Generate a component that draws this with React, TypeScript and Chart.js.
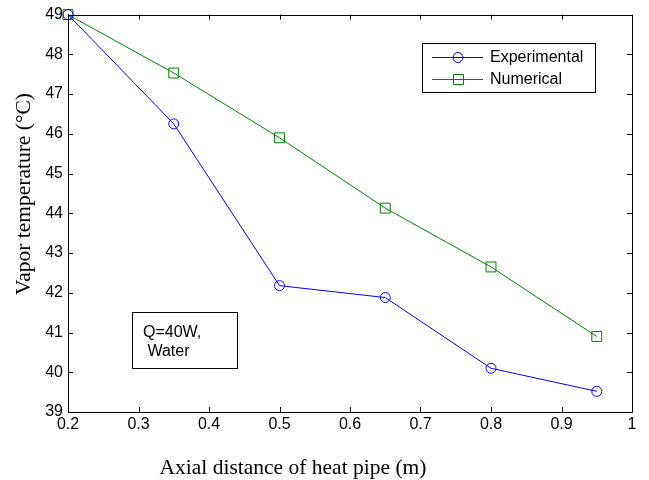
import React, { useEffect, useRef } from 'react';
import { Chart, registerables } from 'chart.js';

Chart.register(...registerables);

const xPositions = [0.2, 0.35, 0.5, 0.65, 0.8, 0.95];
const experimental = [49, 46.25, 42.18, 41.88, 40.1, 39.52];
const numerical = [49, 47.53, 45.9, 44.13, 42.65, 40.9];
const xTickValues = [0.2, 0.3, 0.4, 0.5, 0.6, 0.7, 0.8, 0.9, 1];
const yTickValues = [39, 40, 41, 42, 43, 44, 45, 46, 47, 48, 49];
const seriesNames = ['Experimental', 'Numerical'];
const seriesColors = ['#0000ff', '#008000'];
const noteLines = ['Q=40W,', ' Water'];
const xTitle = 'Axial distance of heat pipe (m)';
const yTitle = 'Vapor temperature (\u00b0C)';

const SANS = '"Liberation Sans", Arial, sans-serif';
const SERIF = '"Liberation Serif", "Times New Roman", serif';

const overlayPlugin = {
  id: 'matlabOverlay',
  afterDraw(chart: any) {
    const ctx = chart.ctx as CanvasRenderingContext2D;
    const { left, right, top, bottom } = chart.chartArea;
    const xs = chart.scales.x;
    const ys = chart.scales.y;
    ctx.save();
    // box
    ctx.strokeStyle = '#000';
    ctx.lineWidth = 1;
    ctx.beginPath();
    ctx.rect(Math.round(left) + 0.5, Math.round(top) + 0.5, Math.round(right - left), Math.round(bottom - top));
    ctx.stroke();
    // inward ticks
    const tl = 5;
    ctx.beginPath();
    xTickValues.forEach((v) => {
      const px = Math.round(xs.getPixelForValue(v)) + 0.5;
      ctx.moveTo(px, bottom);
      ctx.lineTo(px, bottom - tl);
      ctx.moveTo(px, top);
      ctx.lineTo(px, top + tl);
    });
    yTickValues.forEach((v) => {
      const py = Math.round(ys.getPixelForValue(v)) + 0.5;
      ctx.moveTo(left, py);
      ctx.lineTo(left + tl, py);
      ctx.moveTo(right, py);
      ctx.lineTo(right - tl, py);
    });
    ctx.stroke();

    // titles
    ctx.fillStyle = '#000';
    ctx.font = `21.5px ${SERIF}`;
    ctx.textAlign = 'center';
    ctx.textBaseline = 'alphabetic';
    ctx.fillText(xTitle, 293, 474);
    ctx.save();
    ctx.translate(30, 194);
    ctx.rotate(-Math.PI / 2);
    ctx.fillText(yTitle, 0, 0);
    ctx.restore();

    // legend
    ctx.fillStyle = '#fff';
    ctx.fillRect(422, 43, 173, 49);
    ctx.strokeStyle = '#000';
    ctx.lineWidth = 1;
    ctx.strokeRect(422.5, 43.5, 173, 49);
    const rowsY = [57, 79];
    seriesNames.forEach((name, i) => {
      const y = rowsY[i];
      ctx.strokeStyle = seriesColors[i];
      ctx.beginPath();
      ctx.moveTo(432, y + 0.5);
      ctx.lineTo(483, y + 0.5);
      ctx.stroke();
      ctx.beginPath();
      if (i === 0) {
        ctx.arc(458, y + 0.5, 5, 0, Math.PI * 2);
      } else {
        ctx.rect(453.5, y - 4.5, 10, 10);
      }
      ctx.stroke();
      ctx.fillStyle = '#000';
      ctx.font = `16px ${SANS}`;
      ctx.textAlign = 'left';
      ctx.textBaseline = 'middle';
      ctx.fillText(name, 490, y + 1);
    });

    // note box
    ctx.fillStyle = '#fff';
    ctx.fillRect(132, 312, 105, 56);
    ctx.strokeStyle = '#000';
    ctx.strokeRect(132.5, 312.5, 105, 56);
    ctx.fillStyle = '#000';
    ctx.font = `16px ${SANS}`;
    ctx.textAlign = 'left';
    ctx.textBaseline = 'middle';
    ctx.fillText(noteLines[0], 143, 333);
    ctx.fillText(noteLines[1], 143, 352);
    ctx.restore();
  },
};

export default function App() {
  const canvasRef = useRef<HTMLCanvasElement | null>(null);

  useEffect(() => {
    document.body.style.margin = '0';
    const canvas = canvasRef.current;
    if (!canvas) return;
    const chart = new Chart(canvas, {
      type: 'line',
      data: {
        datasets: [
          {
            label: seriesNames[0],
            data: xPositions.map((x, i) => ({ x, y: experimental[i] })),
            borderColor: seriesColors[0],
            backgroundColor: 'transparent',
            borderWidth: 1,
            pointStyle: 'circle',
            pointRadius: 5,
            pointBorderWidth: 1,
            pointBorderColor: seriesColors[0],
            pointBackgroundColor: 'transparent',
            tension: 0,
            clip: false as any,
          },
          {
            label: seriesNames[1],
            data: xPositions.map((x, i) => ({ x, y: numerical[i] })),
            borderColor: seriesColors[1],
            backgroundColor: 'transparent',
            borderWidth: 1,
            pointStyle: 'rect',
            pointRadius: 7,
            pointBorderWidth: 1,
            pointBorderColor: seriesColors[1],
            pointBackgroundColor: 'transparent',
            tension: 0,
            clip: false as any,
          },
        ],
      },
      options: {
        responsive: false,
        animation: false,
        devicePixelRatio: 1,
        layout: { padding: { left: 0, right: 17, top: 11, bottom: 0 } },
        plugins: {
          legend: { display: false },
          tooltip: { enabled: false },
        },
        scales: {
          x: {
            type: 'linear',
            min: 0.2,
            max: 1,
            afterBuildTicks: (s: any) => {
              s.ticks = xTickValues.map((v) => ({ value: v }));
            },
            afterFit: (s: any) => {
              s.height = 68;
            },
            grid: { display: false, drawTicks: false },
            border: { display: false },
            ticks: {
              padding: 3,
              color: '#000',
              font: { family: SANS, size: 16 },
              maxRotation: 0,
              autoSkip: false,
              callback: (v: any) => String(Math.round(Number(v) * 10) / 10),
            },
          },
          y: {
            type: 'linear',
            min: 39,
            max: 49,
            afterBuildTicks: (s: any) => {
              s.ticks = yTickValues.map((v) => ({ value: v }));
            },
            afterFit: (s: any) => {
              s.width = 68;
            },
            grid: { display: false, drawTicks: false },
            border: { display: false },
            ticks: {
              padding: 5,
              color: '#000',
              font: { family: SANS, size: 16 },
              autoSkip: false,
              callback: (v: any) => String(v),
            },
          },
        },
      },
      plugins: [overlayPlugin],
    });
    return () => chart.destroy();
  }, []);

  return (
    <div style={{ position: 'absolute', left: 0, top: 0, width: 649, height: 480, background: '#fff' }}>
      <canvas ref={canvasRef} width={649} height={480} />
    </div>
  );
}
